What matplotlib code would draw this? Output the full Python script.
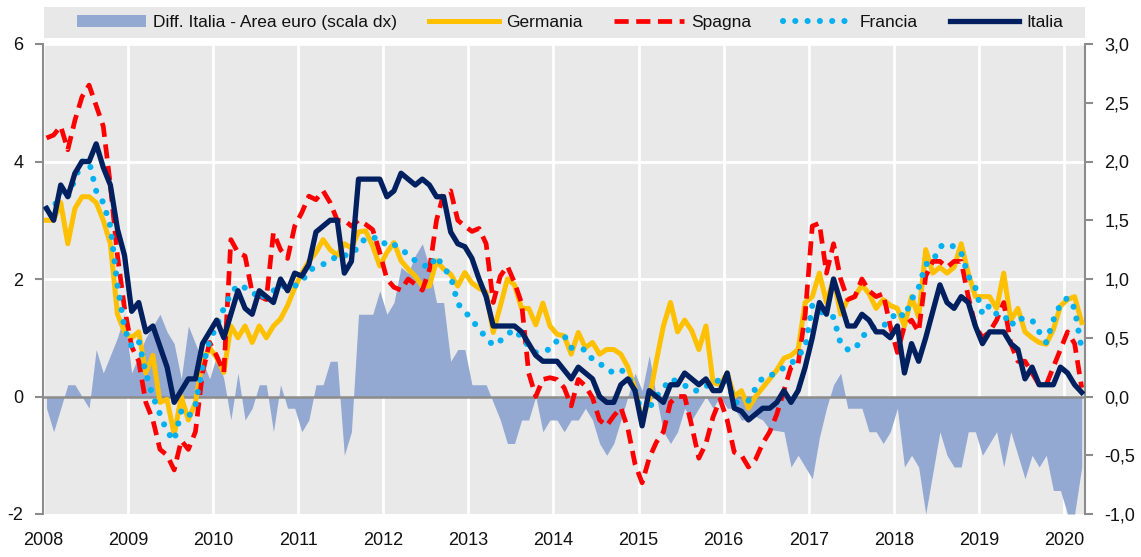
import numpy as np
import matplotlib
matplotlib.use('Agg')
import matplotlib.pyplot as plt
from matplotlib.patches import Patch, Rectangle
from matplotlib.lines import Line2D
from matplotlib.ticker import FuncFormatter

plt.rcParams['font.family'] = ['Liberation Sans', 'DejaVu Sans']
plt.rcParams['axes.unicode_minus'] = False

# ---------------- data (monthly, Jan 2008 - Mar 2020) ----------------
start_year = 2008
year_ticks = list(range(2008, 2021))

italia = [
    3.2, 3.0, 3.6, 3.4, 3.8, 4.0, 4.0, 4.3, 3.9, 3.6, 2.85, 2.4,
    1.45, 1.6, 1.1, 1.2, 0.85, 0.5, -0.1, 0.1, 0.3, 0.3, 0.9, 1.1,
    1.3, 1.0, 1.4, 1.8, 1.5, 1.4, 1.8, 1.7, 1.6, 2.0, 1.8, 2.1,
    2.05, 2.25, 2.8, 2.9, 3.0, 3.0, 2.1, 2.3, 3.7, 3.7, 3.7, 3.7,
    3.4, 3.5, 3.8, 3.7, 3.6, 3.7, 3.6, 3.4, 3.4, 2.8, 2.6, 2.55,
    2.35, 2.0, 1.7, 1.2, 1.2, 1.2, 1.2, 1.1, 0.9, 0.7, 0.6, 0.6,
    0.6, 0.45, 0.3, 0.5, 0.4, 0.3, 0.0, -0.1, -0.1, 0.2, 0.3, 0.1,
    -0.5, 0.1, 0.0, -0.1, 0.2, 0.2, 0.4, 0.3, 0.2, 0.3, 0.1, 0.1,
    0.4, -0.2, -0.25, -0.4, -0.3, -0.2, -0.2, -0.1, 0.1, -0.1, 0.1, 0.5,
    1.0, 1.6, 1.4, 2.0, 1.6, 1.2, 1.2, 1.4, 1.3, 1.1, 1.1, 1.0,
    1.2, 0.4, 0.9, 0.6, 1.0, 1.45, 1.9, 1.6, 1.5, 1.7, 1.6, 1.2,
    0.9, 1.1, 1.1, 1.1, 0.9, 0.8, 0.3, 0.5, 0.2, 0.2, 0.2, 0.5,
    0.4, 0.2, 0.07,
]

germania = [
    3.0, 3.0, 3.3, 2.6, 3.2, 3.4, 3.4, 3.3, 3.0, 2.6, 1.4, 1.1,
    1.0, 1.1, 0.4, 0.7, -0.1, -0.05, -0.65, 0.0, -0.4, -0.1, 0.6, 0.83,
    0.66, 0.41, 1.2, 1.0, 1.2, 0.92, 1.2, 1.0, 1.2, 1.32, 1.55, 1.85,
    2.1, 2.3, 2.45, 2.67, 2.5, 2.4, 2.6, 2.53, 2.8, 2.82, 2.56, 2.22,
    2.45, 2.62, 2.31, 2.17, 2.05, 1.88, 1.88, 2.31, 2.17, 2.08, 1.88, 2.11,
    1.93, 1.84, 1.78, 1.09, 1.54, 2.0, 1.9, 1.5, 1.5, 1.22, 1.59, 1.2,
    1.06, 1.03, 0.72, 1.09, 0.83, 0.92, 0.72, 0.8, 0.8, 0.72, 0.5, 0.12,
    -0.4, -0.05, 0.6, 1.2, 1.6, 1.1, 1.3, 1.12, 0.8, 1.2, 0.24, 0.2,
    0.4, 0.0, 0.1, -0.2, 0.0, 0.15, 0.3, 0.45, 0.65, 0.7, 0.8, 1.6,
    1.7, 2.1, 1.6, 2.0, 1.4, 1.65, 1.7, 1.9, 1.75, 1.5, 1.65, 1.55,
    1.5, 1.2, 1.7, 1.35, 2.5, 2.1, 2.2, 2.1, 2.2, 2.6, 2.1, 1.7,
    1.7, 1.7, 1.5, 2.1, 1.3, 1.5, 1.1, 1.0, 0.92, 0.89, 1.14, 1.54,
    1.65, 1.7, 1.26,
]

spagna = [
    4.4, 4.45, 4.6, 4.2, 4.7, 5.1, 5.3, 4.95, 4.6, 3.6, 2.4, 1.5,
    0.85, 0.6, -0.1, -0.4, -0.9, -1.0, -1.25, -0.75, -0.9, -0.6, 0.4, 0.92,
    0.69, 0.41, 2.67, 2.45, 2.39, 1.77, 1.71, 1.65, 2.79, 2.5, 2.35, 2.9,
    3.13, 3.41, 3.35, 3.5, 3.3, 3.0, 3.0, 2.9, 3.0, 2.93, 2.84, 2.45,
    2.0, 1.86, 1.81, 2.0, 1.91, 1.81, 2.16, 3.0, 3.45, 3.5, 3.0, 2.9,
    2.81, 2.86, 2.6, 1.6, 2.05, 2.22, 1.94, 1.59, 0.4, 0.0, 0.29, 0.32,
    0.29, 0.15, -0.16, 0.29, 0.18, -0.02, -0.4, -0.5, -0.33, -0.19, -0.55, -1.15,
    -1.47, -1.05, -0.78, -0.6, -0.1, 0.0, 0.0, -0.5, -1.05, -0.8, -0.35, -0.05,
    -0.4, -0.95, -1.0, -1.2, -1.07, -0.8, -0.6, -0.3, 0.1, 0.5, 0.55, 1.4,
    2.9, 2.95, 2.1, 2.6, 2.0, 1.65, 1.7, 2.0, 1.8, 1.7, 1.75, 1.2,
    0.75, 1.2, 1.3, 1.1, 2.05, 2.3, 2.3, 2.2, 2.3, 2.3, 1.7, 1.2,
    1.0, 1.1, 1.3, 1.6, 0.9, 0.6, 0.6, 0.4, 0.2, 0.2, 0.5, 0.8,
    1.1, 0.9, 0.15,
]

francia = [
    3.2, 3.2, 3.5, 3.4, 3.7, 4.0, 4.0, 3.5, 3.3, 2.9, 1.9, 1.15,
    0.85, 0.95, 0.4, 0.0, -0.3, -0.6, -0.75, -0.25, -0.35, -0.15, 0.5, 0.95,
    1.2, 1.5, 1.75, 1.9, 1.85, 1.8, 1.65, 1.75, 1.8, 1.9, 1.85, 1.88,
    1.95, 2.15, 2.2, 2.25, 2.3, 2.4, 2.4, 2.42, 2.55, 2.7, 2.7, 2.7,
    2.56, 2.59, 2.5, 2.42, 2.31, 2.25, 2.19, 2.39, 2.19, 2.05, 1.58, 1.45,
    1.3, 1.15, 1.0, 0.87, 0.95, 1.06, 1.14, 1.0, 0.86, 0.75, 0.78, 0.8,
    0.95, 1.04, 0.83, 0.8, 0.8, 0.63, 0.57, 0.45, 0.41, 0.46, 0.35, 0.1,
    -0.3, -0.2, 0.0, 0.14, 0.3, 0.25, 0.19, 0.1, 0.1, 0.18, 0.2, 0.3,
    0.3, -0.1, -0.1, -0.07, 0.14, 0.32, 0.35, 0.41, 0.49, 0.55, 0.7, 0.82,
    1.55, 1.45, 1.4, 1.35, 0.9, 0.8, 0.8, 1.0, 1.15, 1.2, 1.2, 1.3,
    1.45, 1.35, 1.65, 1.85, 2.25, 2.3, 2.55, 2.6, 2.55, 2.45, 2.05, 1.85,
    1.4, 1.55, 1.4, 1.4, 1.2, 1.35, 1.3, 1.3, 1.1, 0.92, 1.3, 1.57,
    1.68, 1.5, 0.8,
]

diff_ita_ea = [
    -0.1, -0.3, -0.1, 0.1, 0.1, 0.0, -0.1, 0.4, 0.2, 0.35, 0.5, 0.7,
    0.2, 0.35, 0.5, 0.6, 0.7, 0.55, 0.45, 0.15, 0.6, 0.45, 0.3, 0.15,
    0.35, 0.15, -0.2, 0.2, -0.2, -0.1, 0.1, 0.1, -0.3, 0.1, -0.1, -0.1,
    -0.3, -0.2, 0.1, 0.1, 0.3, 0.3, -0.5, -0.3, 0.7, 0.7, 0.7, 0.9,
    0.7, 0.8, 1.1, 1.05, 1.2, 1.3, 1.1, 0.8, 0.8, 0.3, 0.4, 0.4,
    0.1, 0.1, 0.1, -0.05, -0.2, -0.4, -0.4, -0.2, -0.2, 0.0, -0.3, -0.2,
    -0.2, -0.3, -0.2, -0.2, -0.1, -0.2, -0.4, -0.5, -0.4, -0.2, 0.0, 0.2,
    0.05, 0.35, 0.0, -0.3, -0.4, -0.3, -0.1, -0.2, -0.1, 0.0, -0.1, 0.0,
    -0.1, -0.1, -0.2, -0.2, -0.17, -0.2, -0.28, -0.29, -0.3, -0.6, -0.5, -0.6,
    -0.7, -0.35, -0.1, 0.1, 0.2, -0.1, -0.1, -0.1, -0.3, -0.3, -0.4, -0.3,
    -0.1, -0.6, -0.5, -0.6, -1.0, -0.65, -0.3, -0.5, -0.6, -0.6, -0.3, -0.3,
    -0.5, -0.4, -0.3, -0.6, -0.3, -0.5, -0.7, -0.5, -0.6, -0.5, -0.8, -0.8,
    -1.0, -1.0, -0.6,
]

labels = ["Diff. Italia - Area euro (scala dx)", "Germania", "Spagna", "Francia", "Italia"]

# ---------------- figure ----------------
W, H = 1141, 557
fig = plt.figure(figsize=(W / 100, H / 100), dpi=100)
L, R, B, T = 43 / W, 1085 / W, 1 - 514 / H, 1 - 44 / H
ax = fig.add_axes([L, B, R - L, T - B])
ax2 = ax.twinx()
ax2.set_zorder(1)
ax.set_zorder(2)
ax.patch.set_visible(False)
ax2.patch.set_visible(True)
ax2.set_facecolor('#E9E9E9')

n = len(italia)
x = start_year + (np.arange(n) + 0.5) / 12.0

xmin, xmax = 2008.0, 2020.247
ax.set_xlim(xmin, xmax)
ax.set_ylim(-2, 6)
ax2.set_ylim(-1, 3)

# grid (white) behind the area
for yr in year_ticks:
    ax2.axvline(yr, color='white', lw=2, zorder=0.5)
for yv in (1.0, 2.0, 3.0):
    ax2.axhline(yv, color='white', lw=2, zorder=0.5)

# area on right axis
area_color = '#93A9D2'
ax2.fill_between(x, 0, diff_ita_ea, color=area_color, lw=0, zorder=2)

# zero line
ax.axhline(0, color='#8C8C8C', lw=1.8, zorder=1)

# line styles
c_ger, c_spa, c_fra, c_ita = '#FFC000', '#FF0000', '#00B0F0', '#002060'
st_ger = dict(color=c_ger, lw=3.6, solid_joinstyle='round')
st_spa = dict(color=c_spa, lw=3.4, dashes=(3.0, 1.6))
st_fra = dict(color=c_fra, lw=4.4, dashes=(0.01, 2.0), dash_capstyle='round')
st_ita = dict(color=c_ita, lw=3.8, solid_joinstyle='round')

ax.plot(x, germania, zorder=3, **st_ger)
ax.plot(x, spagna, zorder=4, **st_spa)
ax.plot(x, francia, zorder=5, **st_fra)
ax.plot(x, italia, zorder=6, **st_ita)

# axes styling
spine_c = '#8C8C8C'
for s in ['top', 'bottom', 'right']:
    ax.spines[s].set_visible(False)
for s in ['top', 'bottom', 'left']:
    ax2.spines[s].set_visible(False)
ax.spines['left'].set_color(spine_c)
ax.spines['left'].set_linewidth(1.5)
ax2.spines['right'].set_color(spine_c)
ax2.spines['right'].set_linewidth(1.5)

ax.set_yticks([-2, 0, 2, 4, 6])
ax.set_yticklabels(['-2', '0', '2', '4', '6'])
ax.tick_params(axis='y', direction='out', length=6, width=1.5, color=spine_c,
               labelsize=13, pad=8, labelcolor='#111111')
ax.set_xticks(year_ticks)
ax.set_xticklabels([str(y) for y in year_ticks])
ax.tick_params(axis='x', length=0, labelsize=13, pad=13, labelcolor='#111111')

ax2.set_yticks(np.arange(-1.0, 3.01, 0.5))
ax2.yaxis.set_major_formatter(FuncFormatter(lambda v, p: f'{v:.1f}'.replace('.', ',')))
ax2.tick_params(axis='y', direction='out', length=6, width=1.5, color=spine_c,
                labelsize=13, pad=8, labelcolor='#111111')

# legend box
fig.add_artist(Rectangle((44 / W, 1 - 38 / H), 1041 / W, 31 / H, transform=fig.transFigure,
                         facecolor='#E8E8E8', edgecolor='none', zorder=0))
handles = [
    Patch(facecolor=area_color, edgecolor='none'),
    Line2D([], [], **st_ger),
    Line2D([], [], **st_spa),
    Line2D([], [], **st_fra),
    Line2D([], [], **st_ita),
]
leg = fig.legend(handles, labels, loc='center', bbox_to_anchor=(570 / W, 1 - 22.5 / H),
                 ncol=5, frameon=False, fontsize=12.5, handlelength=4.0,
                 handletextpad=0.4, columnspacing=1.85, handleheight=0.65)
for t in leg.get_texts():
    t.set_color('#111111')

fig.savefig('out.png', dpi=100)
